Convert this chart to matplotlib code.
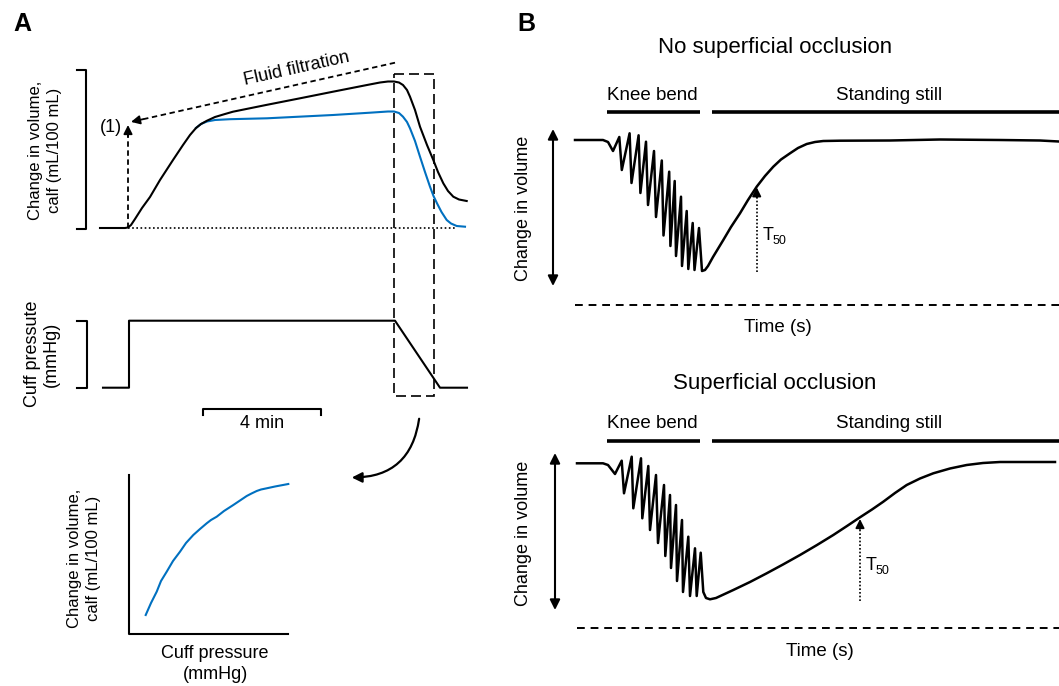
import matplotlib.pyplot as plt
from matplotlib.patches import FancyArrowPatch, Rectangle

plt.rcParams["font.family"] = ["Liberation Sans", "DejaVu Sans"]

BLUE = "#0070C0"

# ---- panel A: calf volume during cuff inflation (figure pixel units, y down)
vol_black_x = [100, 125, 128, 131, 135, 142, 150, 160, 173, 183, 190, 196, 201, 207, 215, 225, 233,
               266, 300, 333, 367, 380, 388, 394, 399, 403, 407, 410, 415, 420, 427, 433.3, 438,
               443.3, 448, 453.3, 459, 466.7]
vol_black_y = [228, 228, 227.5, 225, 219, 208, 197, 180, 160, 145, 135, 128, 124, 120.7, 117, 114, 111.7,
               105, 98.3, 91.7, 85, 82.5, 81.5, 81.5, 82.5, 85, 90, 96.7, 110, 126.7, 145, 160, 172,
               183.3, 191, 196.7, 199.5, 201]
vol_blue_x = [196, 201, 207, 215, 230, 267, 333, 370, 388, 394, 399, 403, 407, 410, 415, 420, 425,
              430, 433.5, 437, 441.5, 446.7, 451, 456.7, 465]
vol_blue_y = [128, 124, 121.5, 120, 119.2, 118.3, 115, 112.7, 111.5, 111.5, 113, 116.7, 122, 128.3,
              141, 156.7, 172, 186.7, 196, 203.3, 212, 220, 223.5, 226, 226.7]

cuff_x = [103, 129, 129, 395, 440, 467]
cuff_y = [387.7, 387.7, 320.7, 320.7, 387.7, 387.7]

# pressure-volume relation during deflation
pv_x = [145.7, 151, 156.7, 161, 166.7, 173, 180, 186, 193.3, 200, 206.7, 211, 216.7, 224, 233.3,
        240, 246.7, 251.5, 256.7, 261, 266.7, 275, 288.3]
pv_y = [615, 603, 591.7, 581, 571.7, 561, 551.7, 543, 535, 529, 523.3, 520, 516.7, 511, 505,
        500.5, 496, 493.5, 491, 489.5, 488.3, 486.5, 484]

# ---- panel B: knee bend then standing still
noocc_x = [575, 603, 608, 613, 619.3, 621.8, 629.6, 631.5, 638.6, 640.4, 646, 648, 654, 656,
           661.8, 663.5, 669.2, 670.4, 674.7, 676, 681, 682, 686.7, 688.3, 692.7, 694.5, 699, 702,
           705, 708, 713, 723.3, 731, 740, 748, 756.7, 765, 773.3, 781, 790, 798, 806.7, 815,
           823.3, 840, 890, 940, 1000, 1040, 1059]
noocc_y = [140, 140, 142, 151, 137, 170, 133.3, 183, 135.3, 193, 141.7, 205, 151, 217,
           160.5, 235.5, 171.7, 246, 181, 256, 196.7, 266, 211, 269, 223, 270, 228, 271,
           270, 266, 257, 240, 227, 213.3, 200, 186.7, 176, 166.7, 159.5, 153.3, 148, 144, 142,
           141, 140.7, 140.5, 139.5, 140, 140.5, 141.5]

occ_x = [577, 603, 608, 615, 621.7, 624, 631.7, 633.3, 641, 642.3, 648.3, 650, 656, 658,
         664, 665.3, 670, 671, 676, 677, 682, 683, 688.3, 690, 695, 696.7, 700.7, 703.3,
         706, 710, 716, 733.3, 750, 766.7, 783, 800, 817, 833.3, 847, 860, 872, 883.3, 895,
         906.7, 920, 933.3, 950, 966.7, 983, 1000, 1055]
occ_y = [463.3, 463.3, 465, 474, 460.7, 493.3, 456.7, 508.3, 458.3, 518.3, 466, 530, 475, 543,
         485, 556, 495, 568, 505, 581, 520, 592, 536.7, 596, 548.3, 596, 552.7, 592,
         598, 599.3, 598, 590, 582, 573.3, 564.5, 555, 545, 535, 526, 517.3, 509.5, 501.7, 493,
         485, 478.5, 473.3, 468.5, 465, 463, 462, 462]

t50_x = [756.7, 860]
t50_base = [271.7, 600.7]
t50_tip = [187.3, 519]

fig = plt.figure(figsize=(10.59, 6.86), dpi=100)
ax = fig.add_axes([0, 0, 1, 1])
ax.set_xlim(0, 1059)
ax.set_ylim(686, 0)
ax.axis("off")

head = dict(arrowstyle="-|>", color="k", lw=1.3, mutation_scale=13, shrinkA=0, shrinkB=0)

# ---------- A ----------
ax.text(22.5, 24, "A", fontsize=18, fontweight="bold", ha="center", va="center")

ax.plot([77, 86, 86, 77], [70, 70, 229, 229], color="k", lw=1.5)
ax.text(45, 150, "Change in volume,\ncalf (mL/100 mL)", rotation=90, fontsize=12,
        ha="center", va="center", linespacing=1.3)

ax.plot([128, 455], [228.3, 228.3], color="k", lw=1.2, linestyle=(0, (1, 1.5)))
ax.plot(vol_blue_x, vol_blue_y, color=BLUE, lw=1.5)
ax.plot(vol_black_x, vol_black_y, color="k", lw=1.5)

# (1) arrow
ax.plot([128, 128], [228, 135], color="k", lw=1.3, linestyle=(0, (3, 2)))
ax.annotate("", xy=(128, 125), xytext=(128, 137), arrowprops=head)
ax.text(111, 127, "(1)", fontsize=13, ha="center", va="center")

# fluid filtration arrow
ax.plot([395, 141], [62.7, 119.7], color="k", lw=1.3, linestyle=(0, (3, 2)))
ax.annotate("", xy=(131, 121.9), xytext=(143, 119.2), arrowprops=head)
ax.text(297, 69, "Fluid filtration", fontsize=13, rotation=12.6, ha="center", va="center")

ax.add_patch(Rectangle((394.3, 74), 39.7, 322, fill=False, ec="k", lw=1.2,
                       linestyle=(0, (6, 3))))

ax.plot([77, 86.7, 86.7, 77], [320.7, 320.7, 387.7, 387.7], color="k", lw=1.5)
ax.text(42, 354, "Cuff pressute\n(mmHg)", rotation=90, fontsize=13,
        ha="center", va="center", linespacing=1.2)
ax.plot(cuff_x, cuff_y, color="k", lw=1.5)

ax.plot([203.3, 203.3, 321, 321], [415, 409.3, 409.3, 415], color="k", lw=1.5)
ax.text(262, 424, "4 min", fontsize=13, ha="center", va="center")

ax.add_patch(FancyArrowPatch((419.5, 416), (349, 477.5), connectionstyle="arc3,rad=-0.45",
                             arrowstyle="-|>", mutation_scale=15, color="k", lw=1.6))

ax.plot([129, 129, 288], [475, 634, 634], color="k", lw=1.5)
ax.plot(pv_x, pv_y, color=BLUE, lw=1.5)
ax.text(84, 558, "Change in volume,\ncalf (mL/100 mL)", rotation=90, fontsize=12,
        ha="center", va="center", linespacing=1.3)
ax.text(215, 664, "Cuff pressure\n(mmHg)", fontsize=13, ha="center", va="center",
        linespacing=1.25)

# ---------- B ----------
ax.text(526, 24, "B", fontsize=18, fontweight="bold", ha="center", va="center")

panels = [
    dict(title="No superficial occlusion", ty=47, lab_y=95, bar_y=112, arr=(553, 129, 286),
         ylab_y=208, dash_y=305, dash_x0=575, time_x=778, time_y=327, x=noocc_x, y=noocc_y),
    dict(title="Superficial occlusion", ty=383, lab_y=423, bar_y=441, arr=(555, 453, 610),
         ylab_y=533, dash_y=628, dash_x0=577, time_x=820, time_y=652, x=occ_x, y=occ_y),
]

for i, p in enumerate(panels):
    ax.text(775, p["ty"], p["title"], fontsize=16, ha="center", va="center")
    ax.text(652, p["lab_y"], "Knee bend", fontsize=13.5, ha="center", va="center")
    ax.text(889, p["lab_y"], "Standing still", fontsize=13.5, ha="center", va="center")
    ax.plot([607, 700], [p["bar_y"]] * 2, color="k", lw=2.6, solid_capstyle="butt")
    ax.plot([712, 1059], [p["bar_y"]] * 2, color="k", lw=2.6, solid_capstyle="butt")
    ax_x, ay0, ay1 = p["arr"]
    ax.annotate("", xy=(ax_x, ay0), xytext=(ax_x, ay1),
                arrowprops=dict(arrowstyle="<|-|>", color="k", lw=1.5, mutation_scale=15,
                                shrinkA=0, shrinkB=0))
    ax.text(524, p["ylab_y"], "Change in volume", rotation=90, fontsize=13,
            ha="center", va="center")
    ax.plot(p["x"], p["y"], color="k", lw=1.8, solid_joinstyle="round")
    ax.plot([p["dash_x0"], 1059], [p["dash_y"]] * 2, color="k", lw=1.4,
            linestyle=(0, (4, 3)))
    ax.text(p["time_x"], p["time_y"], "Time (s)", fontsize=13.5, ha="center", va="center")

    tx = t50_x[i]
    ax.plot([tx, tx], [t50_base[i], t50_tip[i] + 8], color="k", lw=1.2,
            linestyle=(0, (1, 1.2)))
    ax.annotate("", xy=(tx, t50_tip[i]), xytext=(tx, t50_tip[i] + 10), arrowprops=head)
    ty = (t50_base[i] + t50_tip[i]) / 2 + 6
    ax.text(tx + 6, ty, "T", fontsize=13, ha="left", va="center")
    ax.text(tx + 16, ty + 5, "50", fontsize=9, ha="left", va="center")

fig.savefig("out.png", dpi=100)
